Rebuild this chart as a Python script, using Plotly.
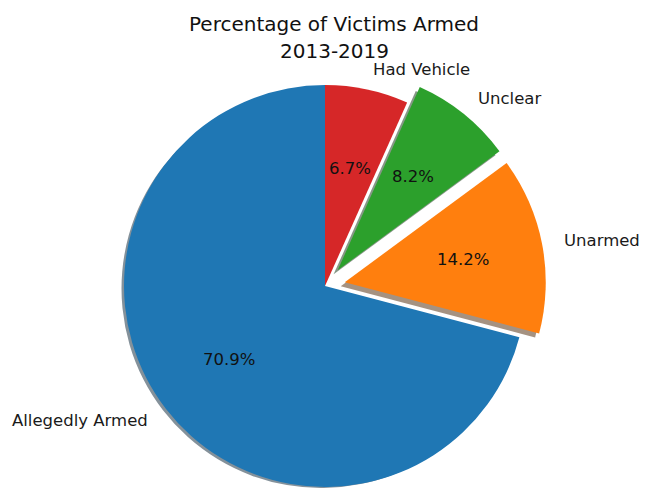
import math
import plotly.graph_objects as go

# ---- data ----
labels = ["Allegedly Armed", "Unarmed", "Unclear", "Had Vehicle"]
values = [70.9, 14.2, 8.2, 6.7]
explode = [0.0, 0.1, 0.1, 0.0]
colors = ["#1f77b4", "#ff7f0e", "#2ca02c", "#d62728"]
title_lines = ["Percentage of Victims Armed", "2013-2019"]

# ---- layout geometry (pixels) ----
W, H = 650, 488
R = 201            # pie radius
CX = 325           # pie centre x (from left)
CY_B = 202         # pie centre y (from bottom)
SHADOW = (-4, -4)  # matplotlib shadow offset (dx, dy up)
label_dist, pct_dist = 1.1, 0.6

total = sum(values)

# plotly (counterclockwise) puts the boundary between slice 1 and 2 at `rotation`
# (measured clockwise from 12 o'clock); matplotlib starts slice 1 at 12 o'clock.
rot = 360.0 * (1 - values[0] / total)
if rot > 180:
    rot -= 360


def shadow_rgba(hexcol):
    r = int(hexcol[1:3], 16); g = int(hexcol[3:5], 16); b = int(hexcol[5:7], 16)
    return f"rgba({int(r*0.3)},{int(g*0.3)},{int(b*0.3)},0.5)"


def domain(cx, cy_b):
    x0 = max(0.0, (cx - R) / W); x1 = min(1.0, (cx + R) / W)
    y0 = max(0.0, (cy_b - R) / H); y1 = min(1.0, (cy_b + R) / H)
    return dict(x=[x0, x1], y=[y0, y1])


fig = go.Figure()

start = 90.0
mids = []
for v in values:
    span = v / total * 360.0
    mids.append(math.radians(start + span / 2))
    start += span

centers = []
for i in range(len(values)):
    dx = explode[i] * R * math.cos(mids[i])
    dy = explode[i] * R * math.sin(mids[i])
    centers.append((CX + dx, CY_B + dy))


def pie_trace(cols, dom, hover):
    return go.Pie(
        labels=labels, values=values, sort=False, direction="counterclockwise",
        rotation=rot, marker=dict(colors=cols, line=dict(width=0)),
        textinfo="none", hoverinfo=hover, showlegend=False, domain=dom)


# shadows first
for i in range(len(values)):
    cx, cy = centers[i]
    cols = ["rgba(0,0,0,0)"] * len(values)
    cols[i] = shadow_rgba(colors[i])
    fig.add_trace(pie_trace(cols, domain(cx + SHADOW[0], cy + SHADOW[1]), "skip"))

# wedges
for i in range(len(values)):
    cx, cy = centers[i]
    cols = ["rgba(0,0,0,0)"] * len(values)
    cols[i] = colors[i]
    fig.add_trace(pie_trace(cols, domain(cx, cy), "label+percent"))

FS = 16.5
annots = []
for i in range(len(values)):
    cx, cy = centers[i]
    c, s = math.cos(mids[i]), math.sin(mids[i])
    lx = cx + label_dist * R * c
    ly = cy + label_dist * R * s
    annots.append(dict(x=lx / W, y=ly / H, xref="paper", yref="paper",
                       text=labels[i], showarrow=False,
                       xanchor="left" if c > 0 else "right", yanchor="middle",
                       font=dict(family="DejaVu Sans", size=FS, color="#1a1a1a")))
    px = cx + pct_dist * R * c
    py = cy + pct_dist * R * s
    annots.append(dict(x=px / W, y=py / H, xref="paper", yref="paper",
                       text=f"{values[i] / total * 100:.1f}%", showarrow=False,
                       xanchor="center", yanchor="middle",
                       font=dict(family="DejaVu Sans", size=FS, color="#111111")))

for line, yc in zip(title_lines, [24, 51]):
    annots.append(dict(x=334 / W, y=1 - yc / H, xref="paper", yref="paper",
                       text=line, showarrow=False,
                       xanchor="center", yanchor="middle",
                       font=dict(family="DejaVu Sans", size=20, color="#111111")))

fig.update_layout(
    width=W, height=H,
    margin=dict(l=0, r=0, t=0, b=0),
    paper_bgcolor="white", plot_bgcolor="white",
    annotations=annots,
    showlegend=False,
)

fig.write_html("out.html", config={"displayModeBar": False},
               post_script="document.body.style.margin='0';")
